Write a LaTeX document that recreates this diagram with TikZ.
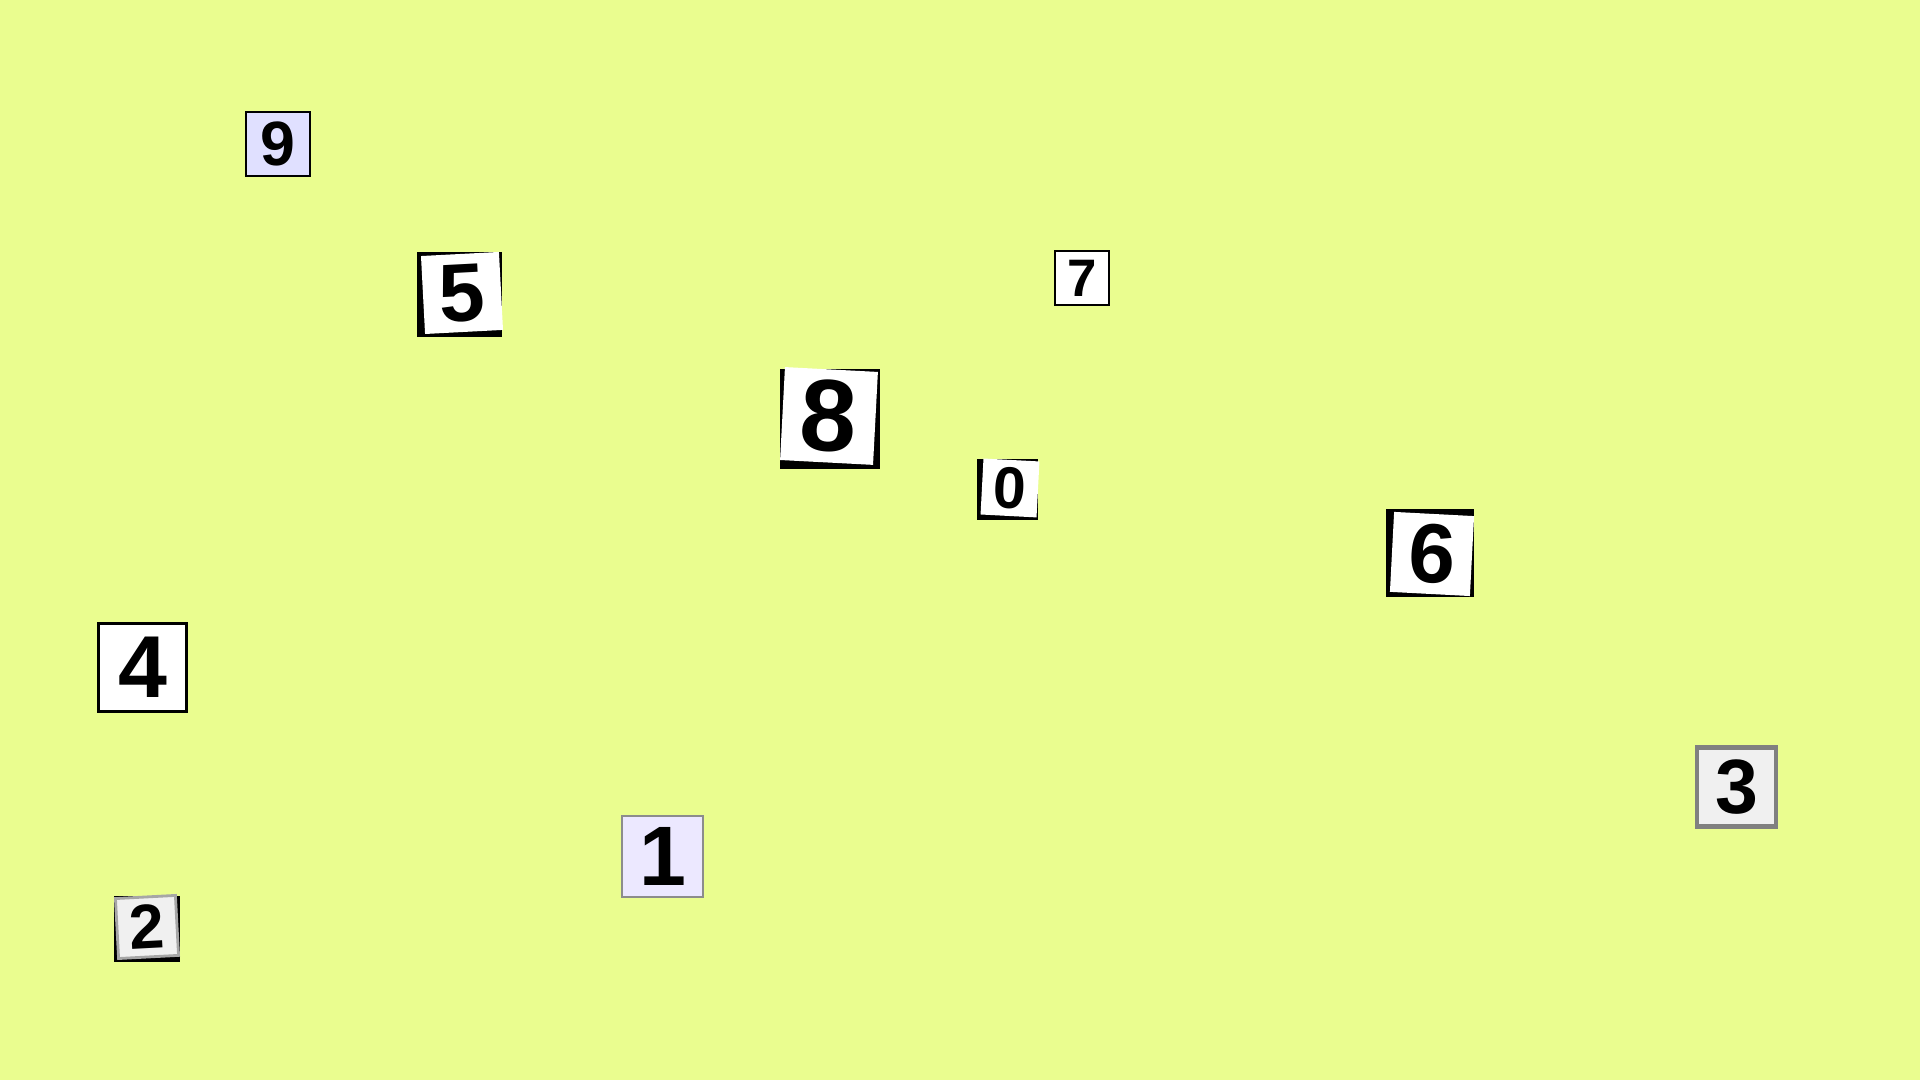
\documentclass[tikz,border=0pt]{standalone}
\usepackage{fontspec}
\setmainfont{Liberation Sans}
\definecolor{paper}{RGB}{234,253,143}
\definecolor{lilac}{RGB}{224,224,255}
\definecolor{pale}{RGB}{236,232,255}
\definecolor{smoke}{RGB}{240,240,240}
\newcommand{\digitsize}[1]{\fontsize{#1}{#1}\selectfont\bfseries}

\begin{document}
\begin{tikzpicture}[x=0.01cm,y=0.01cm,
tile/.style={rectangle,inner sep=0pt,fill=white},
plain/.style={tile,draw=black,line width=0.6pt},
shade/.style={rectangle,inner sep=0pt,fill=black}]
\fill[paper] (0,0) rectangle (1920,1080);
\useasboundingbox (0,0) rectangle (1920,1080);

% framed tiles
\node (nine) [plain,fill=lilac,minimum size=0.64cm,font=\digitsize{17.8}] at (278,936) {9};
\node (seven) [plain,minimum size=0.54cm,font=\digitsize{15}] at (1082,802) {7};
\node (four) [plain,line width=0.9pt,minimum size=0.88cm,font=\digitsize{25}] at (142.5,412.5) {4};
\node (one) [plain,fill=pale,draw=black!45,line width=0.4pt,minimum size=0.81cm,font=\digitsize{24}] at (662.5,223.5) {1};
\node (three) [plain,fill=smoke,draw=black!50,line width=1.4pt,minimum size=0.79cm,font=\digitsize{21.9}] at (1736.5,293) {3};

% tilted tiles on a black card
\node (fiveback) [shade,minimum size=0.85cm] at (459.5,785.5) {};
\node (five) [tile,rotate=3,minimum size=0.78cm,font=\digitsize{23.4}] at (462,787) {5};

\node (eightback) [shade,minimum size=1cm] at (830,661) {};
\node (eight) [tile,rotate=-3,minimum size=0.93cm,font=\digitsize{29}] at (829,664) {8};

\node (zeroback) [shade,minimum size=0.61cm] at (1007.5,590.5) {};
\node (zero) [tile,rotate=-3,minimum size=0.56cm,font=\digitsize{16.7}] at (1010,592) {0};

\node (sixback) [shade,minimum size=0.88cm] at (1430,527) {};
\node (six) [tile,rotate=-3,minimum size=0.8cm,font=\digitsize{23.9}] at (1432,526) {6};

\node (twoback) [shade,minimum size=0.66cm] at (147,151) {};
\node (two) [tile,fill=smoke,draw=black!35,line width=0.8pt,rotate=3,minimum size=0.6cm,font=\digitsize{17.9}] at (147,153) {2};
\end{tikzpicture}
\end{document}
